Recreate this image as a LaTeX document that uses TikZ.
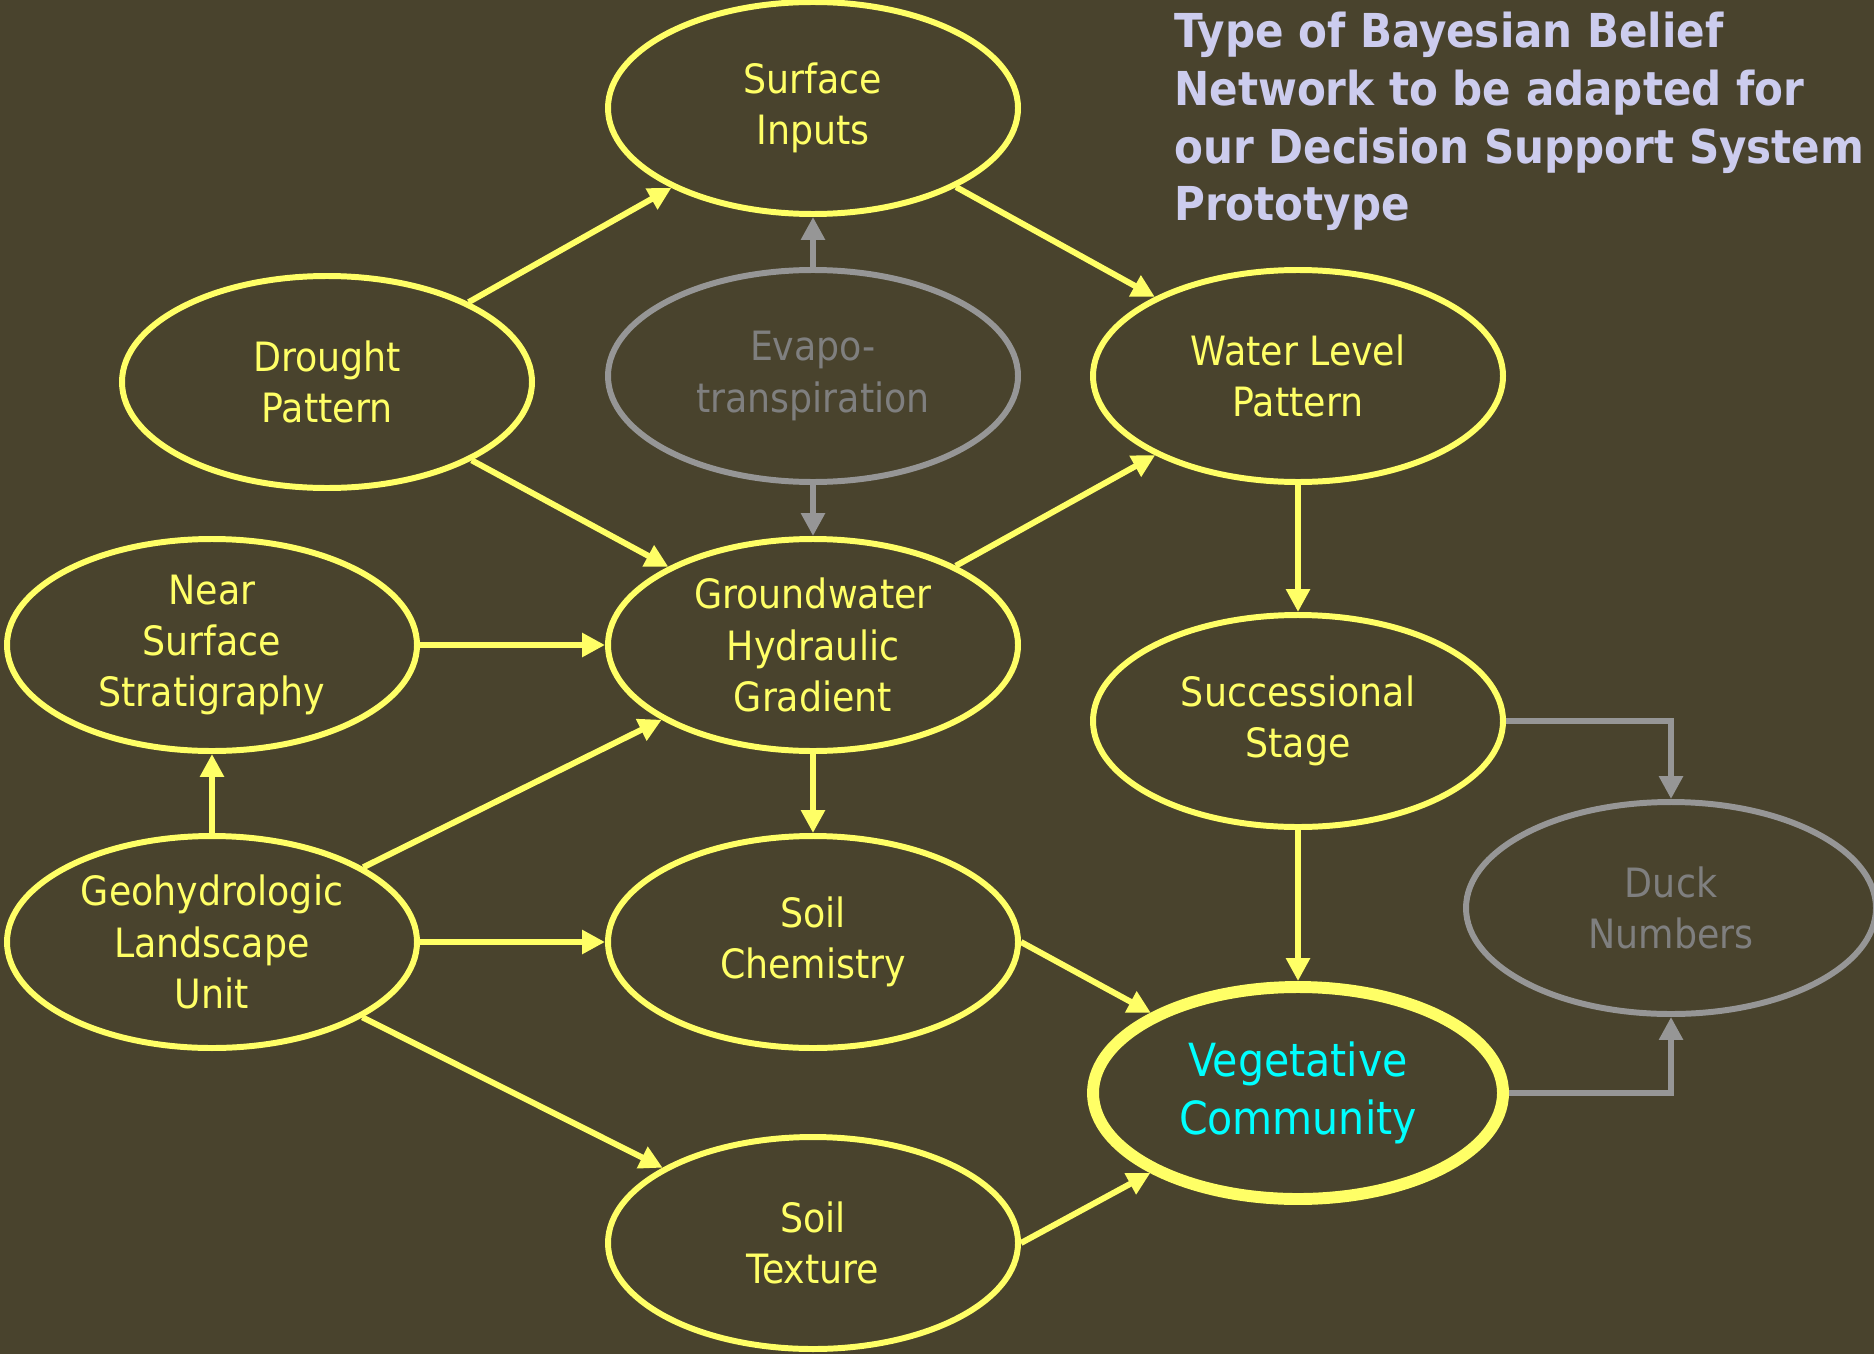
\documentclass[tikz,border=0pt]{standalone}
\usepackage{fontspec}
\setmainfont{DejaVu Sans Condensed}
\usetikzlibrary{shapes.geometric,arrows.meta}

\definecolor{bgolive}{HTML}{49432D}
\definecolor{beliefyellow}{HTML}{FFFF66}
\definecolor{hiddengray}{HTML}{969696}
\definecolor{hiddentext}{HTML}{7F7F7F}
\definecolor{titlelilac}{HTML}{CCCCEE}
\definecolor{goalcyan}{HTML}{00FFFF}

\begin{document}
\begin{tikzpicture}[
    var/.style={ellipse, draw=beliefyellow, line width=1.7pt, text=beliefyellow,
      minimum width=4.1cm, minimum height=2.12cm, inner sep=0pt, align=center,
      font=\fontsize{11.5}{14.6}\selectfont},
    hidden/.style={var, draw=hiddengray, text=hiddentext},
    goal/.style={var, line width=3.4pt, text=goalcyan,
      font=\fontsize{13}{16.3}\selectfont},
    link/.style={draw=beliefyellow, line width=1.7pt,
      -{Triangle[length=6.5pt,width=6.5pt]}},
    faintlink/.style={link, draw=hiddengray}
  ]
    % Background and frame
    \fill[bgolive] (0,0) rectangle (18.74,-13.54);
    \useasboundingbox (0,0) rectangle (18.74,-13.54);

    % Title
    \node [anchor=north west, align=left, text=titlelilac,
      font=\fontsize{13.3}{16.4}\selectfont\bfseries] (title) at (11.62,0.0)
      {Type of Bayesian Belief\\Network to be adapted for\\our Decision Support System\\Prototype};

    % Top row
    \node [var] (surf) at (8.13,-1.08) {Surface\\Inputs};
    \node [var] (drought) at (3.27,-3.82) {Drought\\Pattern};
    \node [hidden] (evapo) at (8.13,-3.76) {Evapo-\\transpiration};
    \node [var] (water) at (12.98,-3.76) {Water Level\\Pattern};

    % Middle row
    \node [var] (near) at (2.12,-6.45) {Near\\Surface\\Stratigraphy};
    \node [var] (ground) at (8.13,-6.45) {Groundwater\\Hydraulic\\Gradient};
    \node [var] (succ) at (12.98,-7.21) {Successional\\Stage};

    % Lower rows
    \node [var] (geo) at (2.12,-9.42) {Geohydrologic\\Landscape\\Unit};
    \node [var] (chem) at (8.13,-9.42) {Soil\\Chemistry};
    \node [hidden] (duck) at (16.71,-9.08) {Duck\\Numbers};
    \node [goal] (veg) at (12.98,-10.93) {Vegetative\\Community};
    \node [var] (texture) at (8.13,-12.43) {Soil\\Texture};

    % Yellow links
    \draw[link] (drought) -- (surf);
    \draw[link] (surf) -- (water);
    \draw[link] (drought) -- (ground);
    \draw[link] (ground) -- (water);
    \draw[link] (near) -- (ground);
    \draw[link] (geo) -- (near);
    \draw[link] (geo) -- (ground);
    \draw[link] (geo) -- (chem);
    \draw[link] (geo) -- (texture);
    \draw[link] (ground) -- (chem);
    \draw[link] (water) -- (succ);
    \draw[link] (succ) -- (veg);
    \draw[link] (chem.east) -- (veg);
    \draw[link] (texture.east) -- (veg);

    % Gray links
    \draw[faintlink] (evapo) -- (surf);
    \draw[faintlink] (evapo) -- (ground);
    \draw[faintlink] (succ.east) -| (duck.north);
    \draw[faintlink] (veg.east) -| (duck.south);
\end{tikzpicture}
\end{document}
